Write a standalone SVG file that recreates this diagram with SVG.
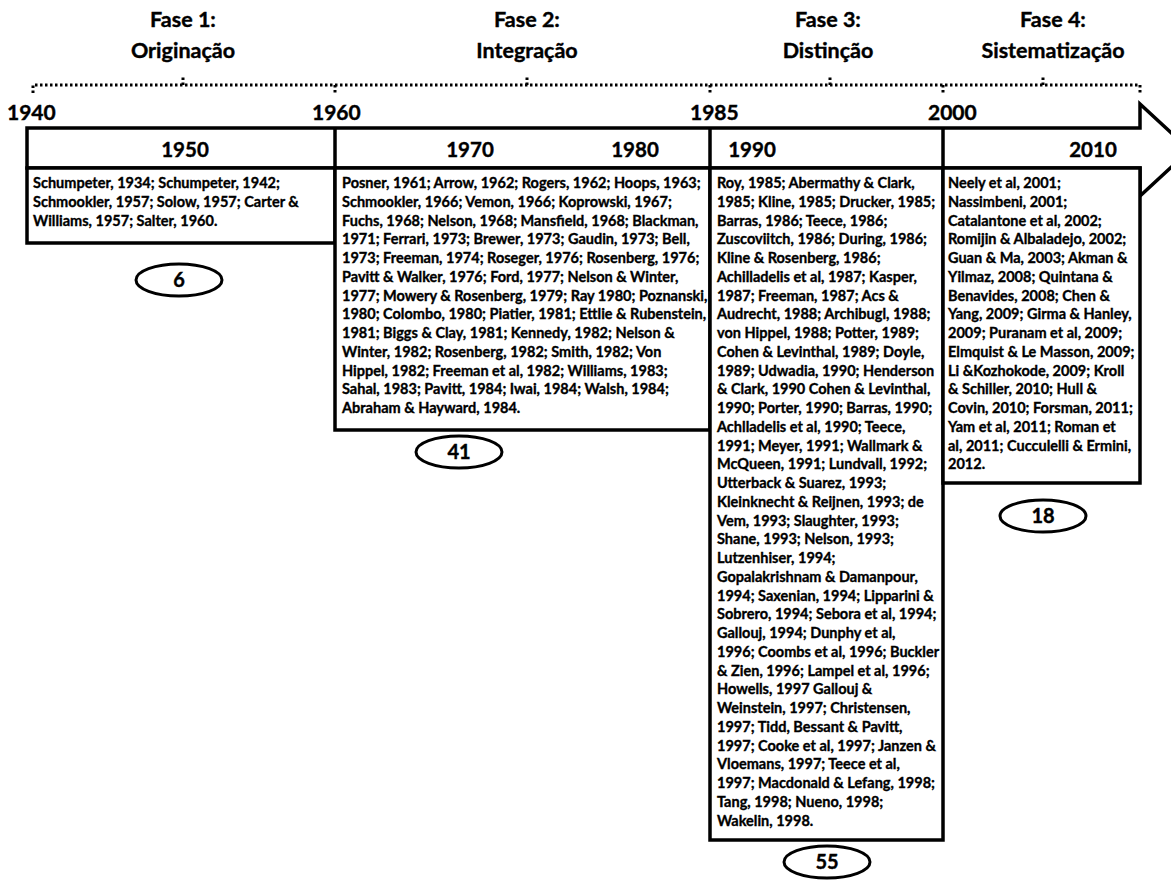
<svg xmlns="http://www.w3.org/2000/svg" width="1171" height="881" viewBox="0 0 1171 881">
<style>
.ph{font-family:Lato,"Liberation Sans",sans-serif;font-weight:bold;font-size:21.5px;text-anchor:middle;fill:#000;stroke:#000;stroke-width:0.4}
.yr{font-family:Lato,"Liberation Sans",sans-serif;font-weight:bold;font-size:21px;fill:#000;stroke:#000;stroke-width:0.4}
.dec{font-family:Lato,"Liberation Sans",sans-serif;font-weight:bold;font-size:20.5px;text-anchor:middle;fill:#000;stroke:#000;stroke-width:0.4}
.tx{font-family:Lato,"Liberation Sans",sans-serif;font-weight:bold;font-size:14.5px;fill:#000;stroke:#000;stroke-width:0.35}
.num{font-family:Lato,"Liberation Sans",sans-serif;font-weight:bold;font-size:20px;text-anchor:middle;fill:#000;stroke:#000;stroke-width:0.4}
.box{fill:#fff;stroke:#000;stroke-width:3.5}
.ell{fill:#fff;stroke:#000;stroke-width:3}
.dot{fill:none;stroke:#000;stroke-width:3;stroke-dasharray:2.5 2.5}
</style>
<g id="phases">
<text class="ph" x="183" y="27">Fase 1:</text><text class="ph" x="183" y="58">Originação</text>
<text class="ph" x="527" y="27">Fase 2:</text><text class="ph" x="527" y="58">Integração</text>
<text class="ph" x="828" y="27">Fase 3:</text><text class="ph" x="828" y="58">Distinção</text>
<text class="ph" x="1053" y="27">Fase 4:</text><text class="ph" x="1053" y="58">Sistematização</text>
</g>
<g id="brace">
<path class="dot" d="M33,93 V85 H1140 V95"/>
<path class="dot" d="M335,85 V94 M710,85 V94 M943,85 V95"/>
<path class="dot" d="M183,85 V77 M527,85 V77 M830,85 V77 M1043,85 V76"/>
</g>
<g id="years">
<text class="yr" x="7" y="120">1940</text>
<text class="yr" x="312" y="120">1960</text>
<text class="yr" x="690" y="120">1985</text>
<text class="yr" x="928" y="120">2000</text>
</g>
<g id="arrow">
<path class="box" d="M27,128 H1140 V104 L1190,150 L1140,196 V168 H27 Z"/>
<path fill="none" stroke="#000" stroke-width="3.5" d="M335,128 V168 M710,128 V168 M943,128 V168"/>
<text class="dec" x="185" y="157">1950</text>
<text class="dec" x="470" y="157">1970</text>
<text class="dec" x="635" y="157">1980</text>
<text class="dec" x="752" y="157">1990</text>
<text class="dec" x="1093" y="157">2010</text>
</g>
<g id="box1">
<rect class="box" x="27" y="168" width="308" height="75"/>
<text class="tx" y="188"><tspan x="33">Schumpeter, 1934; Schumpeter, 1942;</tspan><tspan x="33" dy="18.75">Schmookler, 1957; Solow, 1957; Carter &amp;</tspan><tspan x="33" dy="18.75">Williams, 1957; Salter, 1960.</tspan></text>
</g>
<g id="box2">
<rect class="box" x="335" y="168" width="375" height="262"/>
<text class="tx" y="188"><tspan x="342">Posner, 1961; Arrow, 1962; Rogers, 1962; Hoops, 1963;</tspan><tspan x="342" dy="18.75">Schmookler, 1966; Vemon, 1966; Koprowski, 1967;</tspan><tspan x="342" dy="18.75">Fuchs, 1968; Nelson, 1968; Mansfield, 1968; Blackman,</tspan><tspan x="342" dy="18.75">1971; Ferrari, 1973; Brewer, 1973; Gaudin, 1973; Bell,</tspan><tspan x="342" dy="18.75">1973; Freeman, 1974; Roseger, 1976; Rosenberg, 1976;</tspan><tspan x="342" dy="18.75">Pavitt &amp; Walker, 1976; Ford, 1977; Nelson &amp; Winter,</tspan><tspan x="342" dy="18.75">1977; Mowery &amp; Rosenberg, 1979; Ray 1980; Poznanski,</tspan><tspan x="342" dy="18.75">1980; Colombo, 1980; Piatier, 1981; Ettlie &amp; Rubenstein,</tspan><tspan x="342" dy="18.75">1981; Biggs &amp; Clay, 1981; Kennedy, 1982; Nelson &amp;</tspan><tspan x="342" dy="18.75">Winter, 1982; Rosenberg, 1982; Smith, 1982; Von</tspan><tspan x="342" dy="18.75">Hippel, 1982; Freeman et al, 1982; Williams, 1983;</tspan><tspan x="342" dy="18.75">Sahal, 1983; Pavitt, 1984; Iwai, 1984; Walsh, 1984;</tspan><tspan x="342" dy="18.75">Abraham &amp; Hayward, 1984.</tspan></text>
</g>
<g id="box3">
<rect class="box" x="710" y="168" width="233" height="672"/>
<text class="tx" y="188"><tspan x="717">Roy, 1985; Abermathy &amp; Clark,</tspan><tspan x="717" dy="18.75">1985; Kline, 1985; Drucker, 1985;</tspan><tspan x="717" dy="18.75">Barras, 1986; Teece, 1986;</tspan><tspan x="717" dy="18.75">Zuscoviitch, 1986; During, 1986;</tspan><tspan x="717" dy="18.75">Kline &amp; Rosenberg, 1986;</tspan><tspan x="717" dy="18.75">Achilladelis et al, 1987; Kasper,</tspan><tspan x="717" dy="18.75">1987; Freeman, 1987; Acs &amp;</tspan><tspan x="717" dy="18.75">Audrecht, 1988; Archibugl, 1988;</tspan><tspan x="717" dy="18.75">von Hippel, 1988; Potter, 1989;</tspan><tspan x="717" dy="18.75">Cohen &amp; Levinthal, 1989; Doyle,</tspan><tspan x="717" dy="18.75">1989; Udwadia, 1990; Henderson</tspan><tspan x="717" dy="18.75">&amp; Clark, 1990 Cohen &amp; Levinthal,</tspan><tspan x="717" dy="18.75">1990; Porter, 1990; Barras, 1990;</tspan><tspan x="717" dy="18.75">Achlladelis et al, 1990; Teece,</tspan><tspan x="717" dy="18.75">1991; Meyer, 1991; Wallmark &amp;</tspan><tspan x="717" dy="18.75">McQueen, 1991; Lundvall, 1992;</tspan><tspan x="717" dy="18.75">Utterback &amp; Suarez, 1993;</tspan><tspan x="717" dy="18.75">Kleinknecht &amp; Reijnen, 1993; de</tspan><tspan x="717" dy="18.75">Vem, 1993; Slaughter, 1993;</tspan><tspan x="717" dy="18.75">Shane, 1993; Nelson, 1993;</tspan><tspan x="717" dy="18.75">Lutzenhiser, 1994;</tspan><tspan x="717" dy="18.75">Gopalakrishnam &amp; Damanpour,</tspan><tspan x="717" dy="18.75">1994; Saxenian, 1994; Lipparini &amp;</tspan><tspan x="717" dy="18.75">Sobrero, 1994; Sebora et al, 1994;</tspan><tspan x="717" dy="18.75">Gallouj, 1994; Dunphy et al,</tspan><tspan x="717" dy="18.75">1996; Coombs et al, 1996; Buckler</tspan><tspan x="717" dy="18.75">&amp; Zien, 1996; Lampel et al, 1996;</tspan><tspan x="717" dy="18.75">Howells, 1997 Gallouj &amp;</tspan><tspan x="717" dy="18.75">Weinstein, 1997; Christensen,</tspan><tspan x="717" dy="18.75">1997; Tidd, Bessant &amp; Pavitt,</tspan><tspan x="717" dy="18.75">1997; Cooke et al, 1997; Janzen &amp;</tspan><tspan x="717" dy="18.75">Vloemans, 1997; Teece et al,</tspan><tspan x="717" dy="18.75">1997; Macdonald &amp; Lefang, 1998;</tspan><tspan x="717" dy="18.75">Tang, 1998; Nueno, 1998;</tspan><tspan x="717" dy="18.75">Wakelin, 1998.</tspan></text>
</g>
<g id="box4">
<rect class="box" x="943" y="168" width="197" height="315"/>
<text class="tx" y="188"><tspan x="948">Neely et al, 2001;</tspan><tspan x="948" dy="18.75">Nassimbeni, 2001;</tspan><tspan x="948" dy="18.75">Catalantone et al, 2002;</tspan><tspan x="948" dy="18.75">Romijin &amp; Albaladejo, 2002;</tspan><tspan x="948" dy="18.75">Guan &amp; Ma, 2003; Akman &amp;</tspan><tspan x="948" dy="18.75">Yilmaz, 2008; Quintana &amp;</tspan><tspan x="948" dy="18.75">Benavides, 2008; Chen &amp;</tspan><tspan x="948" dy="18.75">Yang, 2009; Girma &amp; Hanley,</tspan><tspan x="948" dy="18.75">2009; Puranam et al, 2009;</tspan><tspan x="948" dy="18.75">Elmquist &amp; Le Masson, 2009;</tspan><tspan x="948" dy="18.75">Li &amp;Kozhokode, 2009; Kroll</tspan><tspan x="948" dy="18.75">&amp; Schiller, 2010; Hull &amp;</tspan><tspan x="948" dy="18.75">Covin, 2010; Forsman, 2011;</tspan><tspan x="948" dy="18.75">Yam et al, 2011; Roman et</tspan><tspan x="948" dy="18.75">al, 2011; Cucculelli &amp; Ermini,</tspan><tspan x="948" dy="18.75">2012.</tspan></text>
</g>
<g id="count6"><ellipse class="ell" cx="179" cy="280" rx="43" ry="16"/><text class="num" x="179" y="287">6</text></g>
<g id="count41"><ellipse class="ell" cx="459" cy="452" rx="43" ry="16"/><text class="num" x="459" y="459">41</text></g>
<g id="count55"><ellipse class="ell" cx="827" cy="862" rx="43" ry="16"/><text class="num" x="827" y="869">55</text></g>
<g id="count18"><ellipse class="ell" cx="1043" cy="516" rx="43" ry="16"/><text class="num" x="1043" y="523">18</text></g>
</svg>
